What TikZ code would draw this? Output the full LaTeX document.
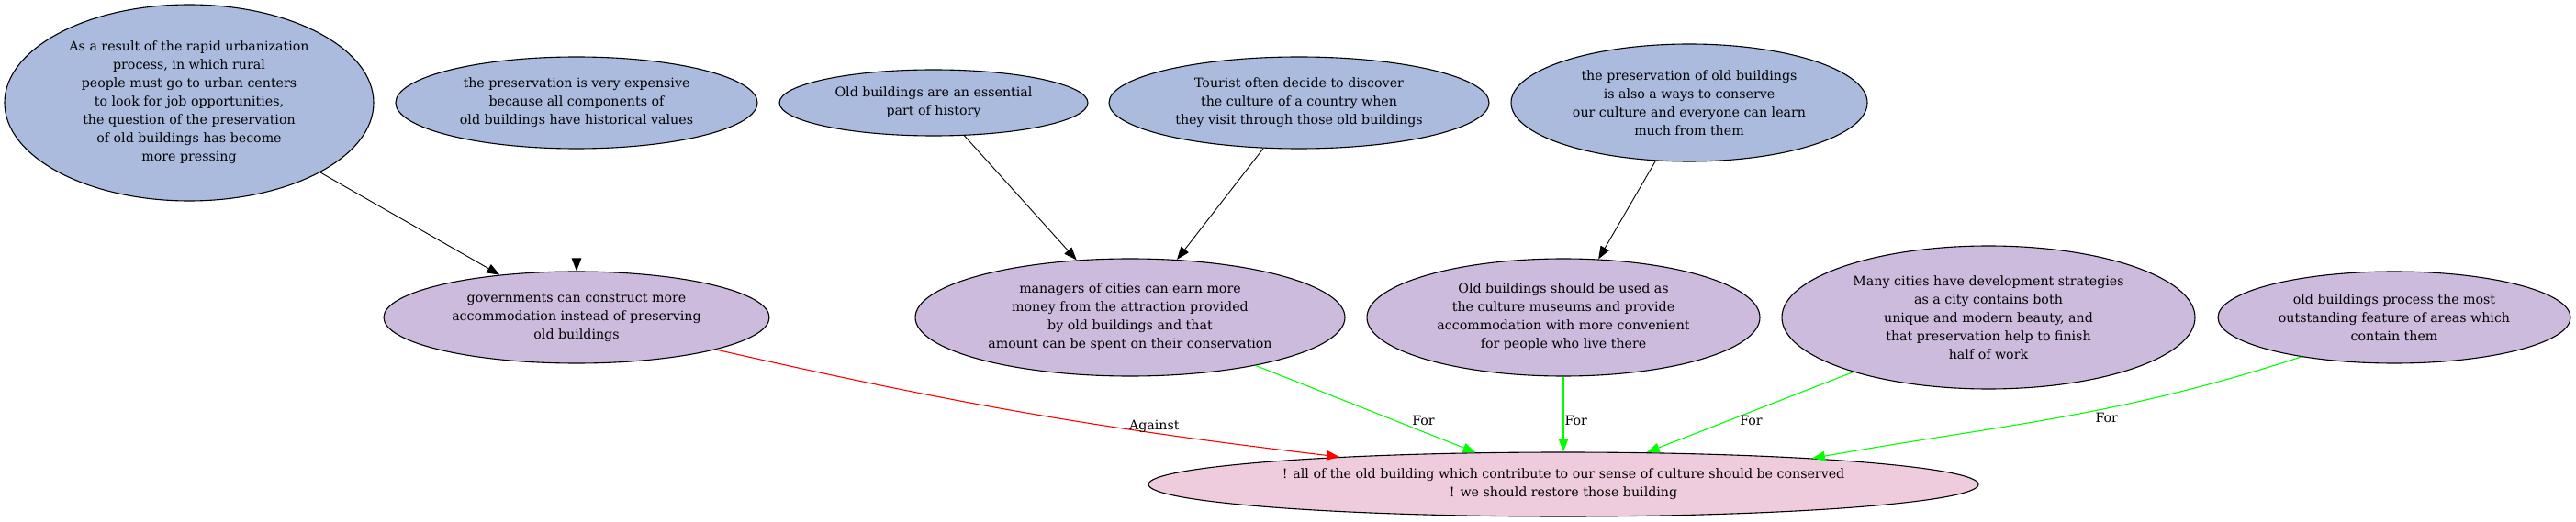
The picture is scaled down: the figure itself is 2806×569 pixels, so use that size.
\documentclass[tikz,border=0pt]{standalone}
\usepackage{fontspec}
\setmainfont{DejaVu Serif}
\usetikzlibrary{shapes, arrows.meta, positioning, calc}

\definecolor{reasonblue}{RGB}{170,187,221}
\definecolor{pointlilac}{RGB}{204,187,221}
\definecolor{claimpink}{RGB}{238,204,221}
\definecolor{forgreen}{RGB}{0,255,0}
\definecolor{againstred}{RGB}{255,0,0}

\begin{document}
\begin{tikzpicture}[x=1pt, y=-1pt,
    every node/.style={font=\fontsize{14.2}{20}\selectfont, align=center, inner sep=0pt},
    reason/.style 2 args={ellipse, draw, line width=1.1pt, fill=reasonblue, minimum width=#1pt, minimum height=#2pt},
    point/.style 2 args={ellipse, draw, line width=1.1pt, fill=pointlilac, minimum width=#1pt, minimum height=#2pt},
    claim/.style 2 args={ellipse, draw, line width=1.1pt, fill=claimpink, minimum width=#1pt, minimum height=#2pt},
    >={Triangle[length=14pt, width=10.5pt]}, line width=0.9pt]

    \useasboundingbox (0, 0) rectangle (2806, 569);

    \node [reason={402}{214}] (Urban) at (206, 112) {As a result of the rapid urbanization\\process, in which rural\\people must go to urban centers\\to look for job opportunities,\\the question of the preservation\\of old buildings has become\\more pressing};
    \node [reason={394}{100}] (Expense) at (628, 112) {the preservation is very expensive\\because all components of\\old buildings have historical values};
    \node [reason={336}{72}] (History) at (1017, 112) {Old buildings are an essential\\part of history};
    \node [reason={414}{100}] (Tourist) at (1415, 112) {Tourist often decide to discover\\the culture of a country when\\they visit through those old buildings};
    \node [reason={388}{128}] (Learn) at (1840, 112) {the preservation of old buildings\\is also a ways to conserve\\our culture and everyone can learn\\much from them};

    \node [point={420}{100}] (Govern) at ($(Expense) + (0, 234)$) {governments can construct more\\accommodation instead of preserving\\old buildings};
    \node [point={468}{128}] (Money) at (1231, 346) {managers of cities can earn more\\money from the attraction provided\\by old buildings and that\\amount can be spent on their conservation};
    \node [point={428}{128}] (Museum) at (1703, 346) {Old buildings should be used as\\the culture museums and provide\\accommodation with more convenient\\for people who live there};
    \node [point={450}{156}] (Strategy) at (2166, 346) {Many cities have development strategies\\as a city contains both\\unique and modern beauty, and\\that preservation help to finish\\half of work};
    \node [point={384}{100}] (Feature) at (2608, 346) {old buildings process the most\\outstanding feature of areas which\\contain them};

    \node [claim={904}{70}] (Restore) at ($(Museum) + (0, 182)$) {! all of the old building which contribute to our sense of culture should be conserved\\! we should restore those building};

    \draw [->] (Urban.-28) -- (Govern.151);
    \draw [->] (Expense) -- (Govern);
    \draw [->] (History.-47) -- (Money.133);
    \draw [->] (Tourist.232) -- (Money.51);
    \draw [->] (Learn.240) -- (Museum.59);

    \draw [->, againstred, line width=1.1pt] (Govern.-13) to [bend right=3] node [above, pos=0.72, black] {Against} (Restore.173);
    \draw [->, forgreen, line width=1.1pt] (Money.-21) -- node [right=19pt, pos=0.63, black] {For} (Restore.160);
    \draw [->, forgreen, line width=1.1pt] (Museum) -- node [right=1pt, pos=0.58, black] {For} (Restore);
    \draw [->, forgreen, line width=1.1pt] (Strategy.202) -- node [right=11pt, pos=0.6, black] {For} (Restore.21);
    \draw [->, forgreen, line width=1.1pt] (Feature.203) to [out=198, in=10] node [right=39pt, pos=0.5, black] {For} (Restore.6);
\end{tikzpicture}
\end{document}
